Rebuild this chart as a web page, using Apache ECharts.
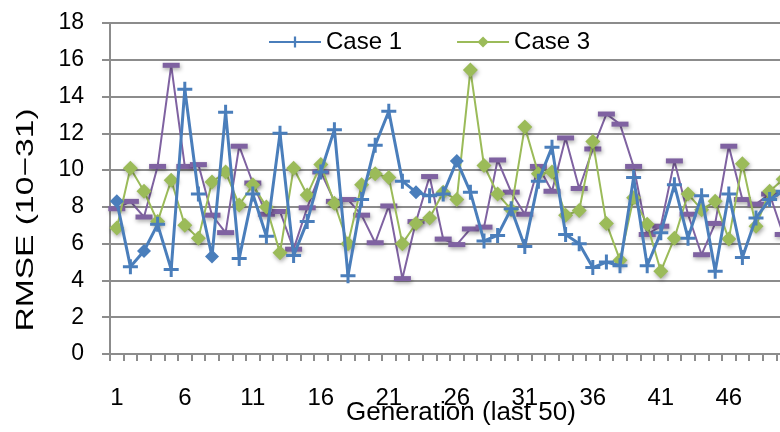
<!DOCTYPE html>
<html>
<head>
<meta charset="utf-8">
<script src="https://cdn.jsdelivr.net/npm/echarts@6/dist/echarts.min.js"></script>
<style>
  html, body { margin: 0; padding: 0; background: #fff; }
  #chart { width: 780px; height: 432px; }
</style>
</head>
<body>
<div id="chart"></div>
<script>
// Generations 1..50
const generations = Array.from({ length: 50 }, (_, i) => String(i + 1));

const case1 = [
  8.3, 4.75, 5.6, 7.05, 4.6, 14.4, 8.7, 5.3, 13.15, 5.2,
  8.7, 6.4, 12.0, 5.35, 7.2, 9.9, 12.2, 4.25, 8.4, 11.35,
  13.2, 9.4, 8.8, 8.6, 8.7, 10.5, 8.8, 6.15, 6.45, 7.9,
  5.85, 9.4, 11.25, 6.5, 6.0, 4.7, 5.0, 4.8, 9.6, 4.8,
  6.6, 9.2, 6.3, 8.6, 4.5, 8.7, 5.25, 7.4, 8.4, 8.85
];
// generations where the Case 1 marker is a diamond
const case1DiamondAt = [1, 3, 8, 23, 26];

const case2 = [
  7.9, 8.3, 7.45, 10.2, 15.7, 10.2, 10.3, 7.55, 6.6, 11.3,
  9.3, 7.6, 7.75, 5.7, 7.95, 9.9, 8.3, 8.4, 7.55, 6.05,
  8.05, 4.1, 7.2, 9.65, 6.25, 5.95, 6.8, 6.9, 10.55, 8.8,
  7.6, 10.2, 8.85, 11.75, 9.0, 11.15, 13.05, 12.5, 10.2, 6.5,
  6.95, 10.5, 7.6, 5.4, 7.1, 11.3, 8.4, 8.15, 8.7, 6.5
];

const case3 = [
  6.85, 10.1, 8.85, 7.2, 9.45, 7.0, 6.3, 9.35, 9.9, 8.1,
  9.2, 8.0, 5.5, 10.1, 8.65, 10.3, 8.2, 6.0, 9.2, 9.8,
  9.6, 6.0, 7.1, 7.4, 8.8, 8.4, 15.45, 10.25, 8.7, 7.85,
  12.35, 9.8, 9.9, 7.55, 7.8, 11.55, 7.1, 5.1, 8.5, 7.05,
  4.5, 6.3, 8.7, 7.85, 8.3, 6.25, 10.35, 6.95, 8.85, 9.5
];

const yTicks = { min: 0, max: 18, interval: 2 };

const FONT = '"Liberation Sans", Arial, sans-serif';
const BLUE = '#4a7ebb';
const GREEN = '#9bbb59';
const PURPLE = '#7f62a1';
const GRID = '#8c8c8c';

const plusPath = 'path://M4,0h2v10h-2z M0,4h10v2h-10z';
const shadow = { shadowColor: 'rgba(0,0,0,0.35)', shadowBlur: 4, shadowOffsetX: 1, shadowOffsetY: 2 };

const case1Data = case1.map((v, i) =>
  case1DiamondAt.includes(i + 1)
    ? { value: v, symbol: 'diamond', symbolSize: 14 }
    : v
);

const chart = echarts.init(document.getElementById('chart'), null, { renderer: 'canvas' });

chart.setOption({
  animation: false,
  backgroundColor: '#fff',
  textStyle: { fontFamily: FONT },
  grid: { left: 110, top: 23, right: -10, height: 331, outerBoundsMode: 'none', containLabel: false },
  legend: {
    data: ['Case 1', 'Case 3'],
    top: 25,
    left: 263,
    itemGap: 54,
    itemWidth: 52,
    itemHeight: 14,
    textStyle: { fontSize: 24, color: '#000', fontFamily: FONT }
  },
  graphic: [
    {
      type: 'text',
      x: 26,
      y: 220,
      rotation: Math.PI / 2,
      scaleX: 1.4,
      style: {
        text: 'RMSE (10\u221231)',
        fontSize: 24,
        fontFamily: FONT,
        fill: '#000',
        align: 'center',
        verticalAlign: 'middle'
      }
    }
  ],
  xAxis: {
    type: 'category',
    data: generations,
    boundaryGap: true,
    name: 'Generation (last 50)',
    nameLocation: 'middle',
    nameGap: 46,
    nameMoveOverlap: false,
    nameTextStyle: { fontSize: 26, color: '#000', padding: [0, 0, 0, 22] },
    axisLine: { lineStyle: { color: GRID, width: 2 } },
    axisTick: { show: true, interval: 0, length: 7, lineStyle: { color: GRID, width: 2 } },
    axisLabel: { interval: 4, margin: 32, fontSize: 24, color: '#000' },
    splitLine: { show: false }
  },
  yAxis: {
    type: 'value',
    min: yTicks.min,
    max: yTicks.max,
    interval: yTicks.interval,
    axisLine: { show: true, lineStyle: { color: GRID, width: 2 } },
    axisTick: { show: true, length: 8, lineStyle: { color: GRID, width: 2 } },
    axisLabel: { margin: 26, fontSize: 23, color: '#000' },
    splitLine: { lineStyle: { color: GRID, width: 2 } }
  },
  series: [
    {
      name: 'Case 2',
      type: 'line',
      data: case2,
      z: 2,
      showSymbol: true,
      showAllSymbol: true,
      symbol: 'rect',
      symbolSize: [17, 5],
      lineStyle: { color: PURPLE, width: 2 },
      itemStyle: Object.assign({ color: PURPLE }, shadow)
    },
    {
      name: 'Case 3',
      type: 'line',
      data: case3,
      z: 3,
      showSymbol: true,
      showAllSymbol: true,
      symbol: 'diamond',
      symbolSize: 15,
      lineStyle: { color: GREEN, width: 2 },
      itemStyle: Object.assign({ color: GREEN }, shadow)
    },
    {
      name: 'Case 1',
      type: 'line',
      data: case1Data,
      z: 4,
      showSymbol: true,
      showAllSymbol: true,
      symbol: plusPath,
      symbolSize: 15,
      lineStyle: { color: BLUE, width: 3 },
      itemStyle: { color: BLUE }
    }
  ]
});
</script>
</body>
</html>
